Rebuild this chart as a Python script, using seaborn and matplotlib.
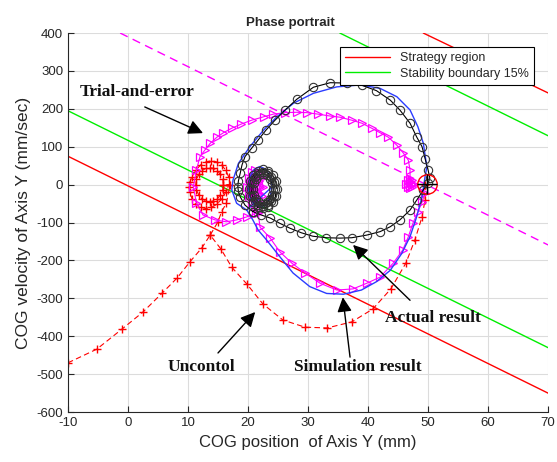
import numpy as np
import pandas as pd
import matplotlib
matplotlib.use("Agg")
import matplotlib.pyplot as plt
import seaborn as sns

# ---- straight boundary lines (end points) ----
strat_lo_x = [-10, 70]
strat_lo_y = [75, -550]
strat_hi_x = [49.2, 70]
strat_hi_y = [400, 242]
stab_lo_x = [-10, 70]
stab_lo_y = [195, -430]
stab_hi_x = [35.3, 70]
stab_hi_y = [400, 129]
trial_line_x = [-1.3, 70]
trial_line_y = [400, -159]

# ---- Uncontrol (red +) ----
unc_left_x = [-10, -5.2, -1.0, 2.5, 5.7, 8.2, 10.3, 12.3, 13.7]
unc_left_y = [-470, -434, -381, -336, -286, -246, -204, -167, -133]
unc_right_x = [49.5, 49.5, 49.0, 47.8, 46.3, 43.8, 40.8, 37.3, 33.2, 29.5, 25.8, 22.5,
               19.8, 17.3, 15.5, 13.7, 15.0, 15.6, 16.4,
               17.0, 16.8, 16.3, 15.6, 14.8, 13.9, 13.0, 12.1, 11.3, 10.7, 10.3, 10.2, 10.3, 10.7,
               11.3, 12.1, 13.0, 13.9, 14.8, 15.6, 16.3, 16.8,
               15.9, 15.8, 15.4, 14.9, 14.2, 13.6, 13.0, 12.3, 11.8, 11.4, 11.3, 11.4, 11.8,
               12.3, 13.0, 13.6, 14.2, 14.9, 15.4, 15.8, 15.9]
unc_right_y = [0, -40, -85, -146, -207, -275, -328, -362, -378, -376, -357, -315,
               -262, -218, -170, -133, -98, -71, -49,
               0, 20, 38, 52, 60, 63, 60, 52, 38, 20, 7, -7, -20, -38,
               -52, -60, -63, -60, -52, -38, -20, 0,
               0, 14, 27, 37, 43, 45, 43, 37, 27, 14, 0, -14, -27,
               -37, -43, -45, -43, -37, -27, -14, 0]
start_x = [49.8]
start_y = [3]

# ---- Trial-and-error (magenta >) ----
trial_x = [22.5, 22.3, 21.8, 21.2, 20.6, 20.1, 19.9, 20.1, 20.6, 21.2, 21.8, 22.3,
           22.0, 21.9, 21.6, 21.2, 20.8, 20.5, 20.4, 20.5, 20.8, 21.2, 21.6, 21.9,
           21.6, 21.5, 21.2, 20.9, 20.8, 20.9, 21.2, 21.5,
           21.7, 22.0, 23.7, 25.3, 27.3, 29.5, 32.0, 34.8, 37.5, 39.8, 42.0, 44.2, 45.8,
           46.7, 47.5, 48.3, 49.0, 49.5,
           47.6, 47.4, 47.0, 46.6, 46.4, 46.6, 47.0, 47.4, 47.3, 47.0, 46.7, 47.0,
           47.0, 46.7, 45.9, 44.8, 43.4, 42.0, 40.6, 39.0, 37.3, 35.3, 33.7, 31.7, 29.8,
           28.1, 26.2, 24.2, 22.6, 20.6, 18.9, 17.3, 15.9, 14.8, 13.7, 12.8,
           12.0, 11.4, 10.9, 11.4, 12.5, 14.5, 16.4, 18.1, 19.8, 21.4]
trial_y = [-6, 17, 33, 39, 33, 17, -6, -29, -45, -51, -45, -29,
           -6, 9, 20, 24, 20, 9, -6, -21, -32, -36, -32, -21,
           -6, 5, 9, 5, -6, -17, -21, -17,
           -75, -112, -141, -177, -207, -233, -260, -278, -275, -260, -244, -207, -172,
           -138, -101, -72, -46, -22,
           3, 12, 16, 12, 3, -6, -10, -6, 3, 8, 3, -3,
           39, 65, 83, 104, 125, 137, 149, 162, 170, 178, 181, 186, 190,
           191, 190, 186, 179, 170, 160, 149, 137, 125, 109, 91,
           74, 38, -5, -49, -80, -93, -98, -93, -85, -75]

# ---- Actual result (black o) ----
actual_x = [24.8, 24.6, 24.1, 23.4, 22.5, 21.6, 20.9, 20.4, 20.2, 20.4, 20.9, 21.6, 22.5, 23.4, 24.1, 24.6,
            24.5, 24.3, 23.9, 23.3, 22.5, 21.7, 21.1, 20.7, 20.5, 20.7, 21.1, 21.7, 22.5, 23.3, 23.9, 24.3,
            24.2, 24.0, 23.7, 23.2, 22.5, 21.8, 21.3, 21.0, 20.8, 21.0, 21.3, 21.8, 22.5, 23.2, 23.7, 24.0,
            20.8, 22.2, 23.7, 25.3, 27.0, 28.9, 30.8, 33.0, 35.3, 37.3, 39.8, 42.0, 43.7, 45.3,
            47.0, 48.1, 49.2, 50.0, 50.3, 50.0, 49.5, 49.0, 48.1, 47.0, 45.3, 43.7, 41.4, 39.0,
            36.5, 33.7, 30.9, 28.1, 26.2, 24.5, 23.0, 21.7, 20.6, 19.5, 19.0, 18.7, 18.4, 18.3,
            18.4, 18.7, 19.5, 20.8]
actual_y = [-11, 9, 25, 36, 40, 36, 25, 9, -11, -31, -47, -58, -62, -58, -47, -31,
            -11, 7, 21, 31, 34, 31, 21, 7, -11, -29, -43, -53, -56, -53, -43, -29,
            -11, 4, 16, 25, 28, 25, 16, 4, -11, -26, -38, -47, -50, -47, -38, -26,
            -71, -80, -88, -102, -115, -127, -136, -140, -141, -140, -133, -124, -111, -93,
            -67, -41, -14, 4, 17, 39, 69, 100, 126, 162, 197, 223, 248, 262,
            268, 269, 257, 225, 197, 170, 144, 118, 96, 74, 52, 30, 10, -5,
            -18, -32, -54, -71]

# ---- Simulation result (blue line) ----
sim_x = [24.0, 23.7, 23.0, 22.0, 21.0, 20.3, 20.0, 20.3, 21.0, 22.0, 23.0, 23.7, 24.0,
         19.8, 20.8, 21.7, 23.1, 25.3, 27.5, 30.3, 33.1, 35.9, 38.9, 41.4, 43.7, 45.6,
         47.0, 48.1, 49.0, 49.5, 49.8, 49.2, 48.3, 47.0, 44.8, 42.0, 38.7, 34.8, 30.9,
         27.6, 24.8, 22.6, 20.3, 18.4, 17.5, 17.3, 18.1, 19.8]
sim_y = [-6, 20, 40, 48, 40, 20, -6, -32, -52, -60, -52, -32, -6,
         -67, -93, -120, -146, -190, -233, -269, -287, -289, -278, -256, -226, -182,
         -137, -85, -32, 21, 47, 110, 153, 197, 232, 254, 263, 258, 241,
         215, 179, 144, 100, 56, 12, -14, -49, -67]

# ---- annotations ----
notes = ["Trial-and-error", "Actual result", "Simulation result", "Uncontol"]
note_xy = [(-8.0, 244), (42.8, -352), (38.3, -481), (12.2, -481)]
note_ha = ["left", "left", "center", "center"]
arrow_tail = [(2.8, 205), (47.0, -305), (37.0, -455), (15.0, -444)]
arrow_tip = [(12.5, 136), (37.5, -159), (35.8, -297), (21.2, -336)]

sns.set_style("ticks")
plt.rcParams["font.family"] = ["Liberation Sans", "DejaVu Sans"]
plt.rcParams["axes.unicode_minus"] = False

fig = plt.figure(figsize=(5.57, 4.62), dpi=100)
ax = fig.add_axes([0.122, 0.108, 0.862, 0.8205])

lw = 1.0
sns.lineplot(x=strat_lo_x, y=strat_lo_y, sort=False, estimator=None, color="#ff0000",
             lw=lw, label="Strategy region", ax=ax)
sns.lineplot(x=stab_lo_x, y=stab_lo_y, sort=False, estimator=None, color="#00ee00",
             lw=lw, label="Stability boundary 15%", ax=ax)
sns.lineplot(x=strat_hi_x, y=strat_hi_y, sort=False, estimator=None, color="#ff0000",
             lw=lw, legend=False, ax=ax)
sns.lineplot(x=stab_hi_x, y=stab_hi_y, sort=False, estimator=None, color="#00ee00",
             lw=lw, legend=False, ax=ax)
sns.lineplot(x=trial_line_x, y=trial_line_y, sort=False, estimator=None, color="#ff00ff",
             lw=lw, linestyle=(0, (6, 4)), legend=False, ax=ax)

sns.lineplot(x=unc_left_x, y=unc_left_y, sort=False, estimator=None, color="#ff0000",
             lw=0.8, linestyle=(0, (5, 3)), marker="+", markersize=6,
             markeredgecolor="#ff0000", markeredgewidth=1.0, legend=False, ax=ax)
sns.lineplot(x=unc_right_x, y=unc_right_y, sort=False, estimator=None, color="#ff0000",
             lw=0.8, linestyle=(0, (5, 3)), marker="+", markersize=6,
             markeredgecolor="#ff0000", markeredgewidth=1.0, legend=False, ax=ax)

sns.lineplot(x=trial_x, y=trial_y, sort=False, estimator=None, color="#ff00ff",
             lw=0.8, marker=">", markersize=5.5, markerfacecolor="none",
             markeredgecolor="#ff00ff", markeredgewidth=0.9, legend=False, ax=ax)

sns.lineplot(x=sim_x, y=sim_y, sort=False, estimator=None, color="#2b3cff",
             lw=1.0, legend=False, ax=ax)

sns.lineplot(x=actual_x, y=actual_y, sort=False, estimator=None, color="#000000",
             lw=0.8, marker="o", markersize=6, markerfacecolor="none",
             markeredgecolor="#333333", markeredgewidth=0.8, legend=False, ax=ax)

ax.plot(start_x, start_y, "o", ms=14, mfc="none", mec="#ff0000", mew=1.0)
ax.plot(start_x, start_y, "+", ms=14, mec="#000000", mew=1.0)

for txt, xy, ha, tail, tip in zip(notes, note_xy, note_ha, arrow_tail, arrow_tip):
    ax.text(xy[0], xy[1], txt, ha=ha, va="center", fontsize=12.5, fontweight="bold",
            family=["Liberation Serif", "DejaVu Serif"], color="#111111")
    ax.annotate("", xy=tip, xytext=tail,
                arrowprops=dict(arrowstyle="-|>", color="black", lw=1.0,
                                mutation_scale=22, shrinkA=0, shrinkB=0))

ax.set_xlim(-10, 70)
ax.set_ylim(-600, 400)
ax.set_xticks(np.arange(-10, 71, 10))
ax.set_yticks(np.arange(-600, 401, 100))
ax.grid(True, color="#dcdcdc", lw=0.8)
ax.set_axisbelow(True)
for side in ["top", "right"]:
    ax.spines[side].set_visible(False)
for side in ["left", "bottom"]:
    ax.spines[side].set_color("#262626")
    ax.spines[side].set_linewidth(0.8)
ax.tick_params(direction="in", length=4, width=0.8, labelsize=9.5, colors="#262626",
               labelcolor="#262626")
ax.set_xlabel("COG position  of Axis Y (mm)", fontsize=12, color="#262626")
ax.set_ylabel("COG velocity of Axis Y (mm/sec)", fontsize=12.5, color="#262626")
ax.set_title("Phase portrait", fontsize=9.5, fontweight="bold", pad=5, x=0.4625)

leg = ax.legend(loc="upper right", bbox_to_anchor=(0.971, 0.963), borderaxespad=0,
                fontsize=9, handlelength=3.6, frameon=True, fancybox=False,
                edgecolor="black", framealpha=1, borderpad=0.4, labelspacing=0.3)
leg.get_frame().set_linewidth(0.8)

fig.savefig("out.png", dpi=100)
